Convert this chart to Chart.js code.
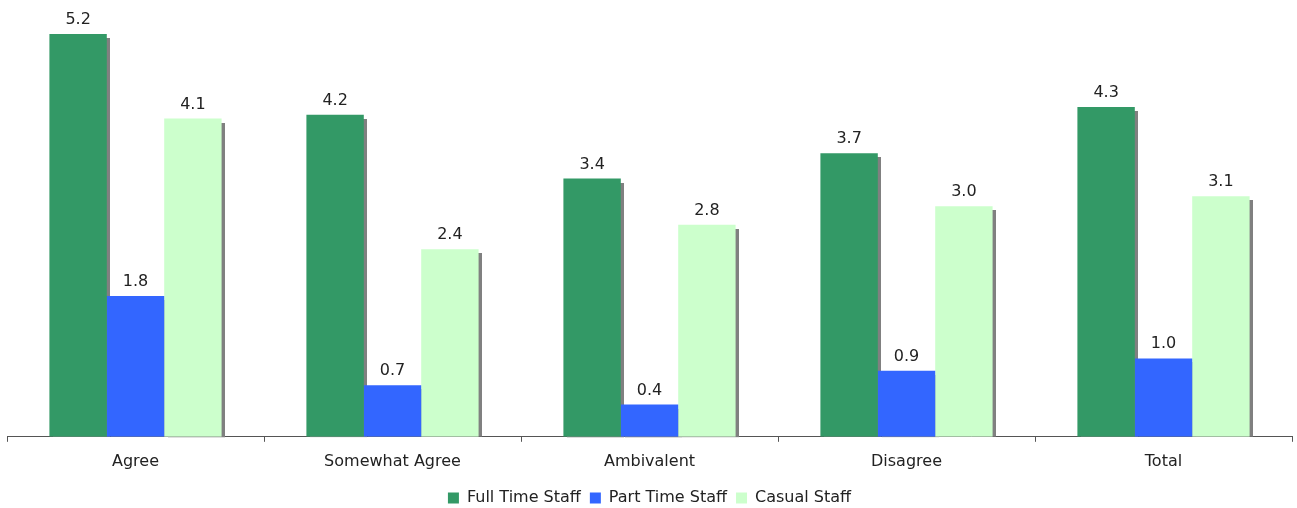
<!DOCTYPE html>
<html>
<head>
<meta charset="utf-8">
<script src="https://cdn.jsdelivr.net/npm/chart.js@4.4.1/dist/chart.umd.min.js"></script>
<style>
  html, body { margin: 0; padding: 0; background: #fff; }
  #wrap { width: 1297px; height: 508px; }
</style>
</head>
<body>
<div id="wrap"><canvas id="chart"></canvas></div>
<script>
const categories = ["Agree", "Somewhat Agree", "Ambivalent", "Disagree", "Total"]
const fullTime = [5.24, 4.19, 3.36, 3.69, 4.29]
const partTime = [1.83, 0.67, 0.42, 0.86, 1.02]
const casual = [4.14, 2.44, 2.76, 3.00, 3.13]

const FONT = "'DejaVu Sans', Verdana, sans-serif"

// gray drop shadow behind each bar
const barShadow = {
  id: "barShadow",
  beforeDatasetsDraw(chart) {
    const ctx = chart.ctx
    ctx.save()
    ctx.fillStyle = "#808080"
    chart.data.datasets.forEach((ds, i) => {
      chart.getDatasetMeta(i).data.forEach((bar) => {
        const w = bar.width
        ctx.fillRect(Math.round(bar.x - w / 2) + 4, Math.round(bar.y) + 4, Math.round(w), bar.base - bar.y - 4)
      })
    })
    ctx.restore()
  },
}

// value labels above bars
const valueLabels = {
  id: "valueLabels",
  afterDatasetsDraw(chart) {
    const ctx = chart.ctx
    ctx.save()
    ctx.font = "16px " + FONT
    ctx.fillStyle = "#222"
    ctx.textAlign = "center"
    ctx.textBaseline = "alphabetic"
    chart.data.datasets.forEach((ds, i) => {
      chart.getDatasetMeta(i).data.forEach((bar, j) => {
        ctx.fillText(ds.data[j].toFixed(1), bar.x, bar.y - 10)
      })
    })
    ctx.restore()
  },
}

new Chart(document.getElementById("chart"), {
  type: "bar",
  data: {
    labels: categories,
    datasets: [
      { label: "Full Time Staff", data: fullTime, backgroundColor: "#339966" },
      { label: "Part Time Staff", data: partTime, backgroundColor: "#3366FF" },
      { label: "Casual Staff", data: casual, backgroundColor: "#CCFFCC" },
    ],
  },
  options: {
    responsive: true,
    maintainAspectRatio: false,
    animation: false,
    layout: { padding: { left: 7, right: 5, top: 14, bottom: -8 } },
    datasets: {
      bar: { categoryPercentage: 0.67, barPercentage: 1, borderWidth: 0 },
    },
    scales: {
      x: {
        grid: { drawOnChartArea: false, drawTicks: true, tickLength: 5, color: "#555" },
        border: { display: true, color: "#555" },
        ticks: { color: "#222", font: { family: FONT, size: 16 }, padding: 10 },
      },
      y: { display: false, min: 0, max: 5.5 },
    },
    plugins: {
      legend: {
        position: "bottom",
        labels: {
          color: "#222",
          font: { family: FONT, size: 16 },
          boxWidth: 11,
          boxHeight: 11,
          padding: 9,
        },
      },
      tooltip: { enabled: false },
    },
  },
  plugins: [barShadow, valueLabels],
})
</script>
</body>
</html>
